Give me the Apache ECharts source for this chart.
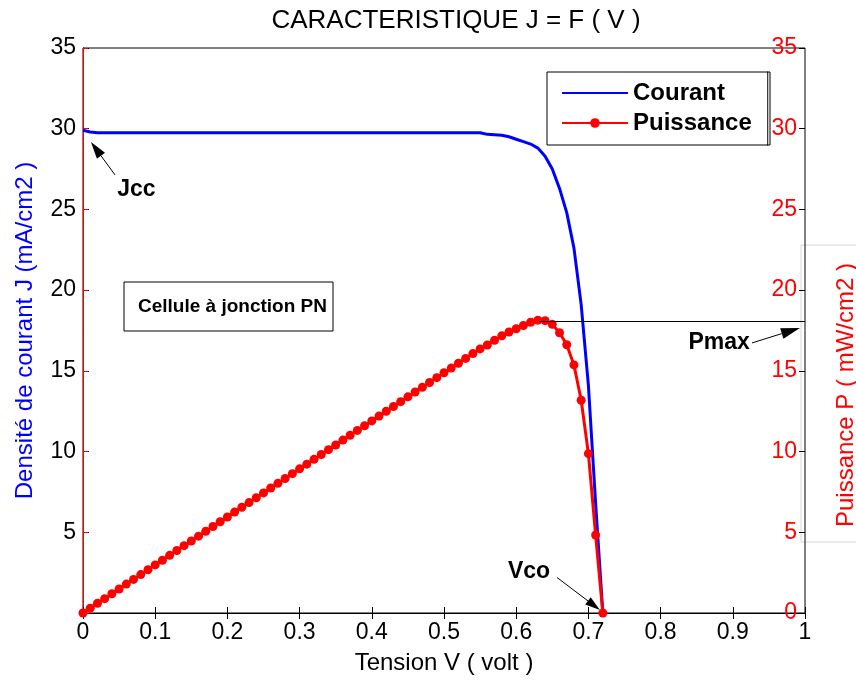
<!DOCTYPE html>
<html><head><meta charset="utf-8">
<script src="https://cdn.jsdelivr.net/npm/echarts@6/dist/echarts.min.js"></script>
<style>html,body{margin:0;padding:0;background:#fff}#c{width:856px;height:684px}</style>
</head><body><div id="c"></div>
<script>
// ---- data ----
const voltage = [0.00,0.01,0.02,0.03,0.04,0.05,0.06,0.07,0.08,0.09,
  0.10,0.11,0.12,0.13,0.14,0.15,0.16,0.17,0.18,0.19,
  0.20,0.21,0.22,0.23,0.24,0.25,0.26,0.27,0.28,0.29,
  0.30,0.31,0.32,0.33,0.34,0.35,0.36,0.37,0.38,0.39,
  0.40,0.41,0.42,0.43,0.44,0.45,0.46,0.47,0.48,0.49,
  0.50,0.51,0.52,0.53,0.54,0.55,0.56,0.57,0.58,0.59,
  0.60,0.61,0.62,0.63,0.64,0.65,0.66,0.67,0.68,0.69,
  0.70,0.71,0.72];
const courant = [29.90,29.80,29.75,29.75,29.75,29.75,29.75,29.75,29.75,29.75,
  29.75,29.75,29.75,29.75,29.75,29.75,29.75,29.75,29.75,29.75,
  29.75,29.75,29.75,29.75,29.75,29.75,29.75,29.75,29.75,29.75,
  29.75,29.75,29.75,29.75,29.75,29.75,29.75,29.75,29.75,29.75,
  29.75,29.75,29.75,29.75,29.75,29.75,29.75,29.75,29.75,29.75,
  29.75,29.75,29.75,29.75,29.75,29.75,29.65,29.63,29.60,29.50,
  29.35,29.20,29.05,28.80,28.30,27.50,26.30,24.80,22.60,19.10,
  14.10,6.80,0.00];
const puissance = [0.00,0.30,0.60,0.89,1.19,1.49,1.79,2.08,2.38,2.68,
  2.98,3.27,3.57,3.87,4.17,4.46,4.76,5.06,5.36,5.65,
  5.95,6.25,6.55,6.84,7.14,7.44,7.74,8.03,8.33,8.63,
  8.93,9.22,9.52,9.82,10.12,10.41,10.71,11.01,11.31,11.60,
  11.90,12.20,12.50,12.79,13.09,13.39,13.69,13.98,14.28,14.58,
  14.88,15.17,15.47,15.77,16.07,16.36,16.60,16.89,17.17,17.41,
  17.61,17.81,18.01,18.14,18.11,17.88,17.36,16.62,15.37,13.18,
  9.87,4.83,0.00];
const xTickLabels = ['0','0.1','0.2','0.3','0.4','0.5','0.6','0.7','0.8','0.9','1'];
const yTickLabels = ['0','5','10','15','20','25','30','35'];
const pmaxValue = 18.1;
const pmaxStartV = 0.632;

// ---- chart ----
const FONT = "'Liberation Sans', Arial, Helvetica, sans-serif";
const chart = echarts.init(document.getElementById('c'), null, {renderer: 'canvas'});

const xFmt = v => xTickLabels[Math.round(v * 10)];
const yFmt = v => yTickLabels[Math.round(v / 5)];

chart.setOption({
  animation: false,
  backgroundColor: '#fff',
  textStyle: {fontFamily: FONT},
  grid: {left: 83, right: 51, top: 48, bottom: 71, show: true, borderColor: '#000', borderWidth: 1, backgroundColor: 'transparent'},
  legend: {
    show: true, orient: 'vertical', left: 547, top: 72,
    padding: [9, 16, 10, 14], itemGap: 6, itemWidth: 66, itemHeight: 12,
    borderColor: '#000', borderWidth: 1, backgroundColor: '#fff', selectedMode: false,
    textStyle: {fontSize: 24, fontWeight: 'bold', color: '#000', fontFamily: FONT, lineHeight: 24},
    data: [{name: 'Courant', itemStyle: {opacity: 0}}, {name: 'Puissance'}]
  },
  xAxis: [
    {type: 'value', min: 0, max: 1, interval: 0.1, position: 'bottom',
     axisLine: {show: true, lineStyle: {color: '#000'}},
     axisTick: {show: true, inside: true, length: 6, lineStyle: {color: '#000'}},
     axisLabel: {color: '#000', fontSize: 23, margin: 8, fontFamily: FONT, formatter: xFmt},
     splitLine: {show: false},
     name: 'Tension V ( volt )', nameLocation: 'middle', nameGap: 38,
     nameTextStyle: {fontSize: 24, color: '#000', fontFamily: FONT}},
    {type: 'value', min: 0, max: 1, interval: 0.1, position: 'top',
     axisLine: {show: false},
     axisTick: {show: true, inside: true, length: 6, lineStyle: {color: '#000'}},
     axisLabel: {show: false}, splitLine: {show: false}}
  ],
  yAxis: [
    {type: 'value', min: 0, max: 35, interval: 5, position: 'left',
     axisLine: {show: true, lineStyle: {color: '#000'}},
     axisTick: {show: true, inside: true, length: 6, lineStyle: {color: '#000'}},
     axisLabel: {color: '#000', fontSize: 23, margin: 7, fontFamily: FONT, showMinLabel: false, formatter: yFmt},
     splitLine: {show: false},
     name: 'Densité de courant J (mA/cm2 )', nameLocation: 'middle', nameGap: 46, nameRotate: 90,
     nameTextStyle: {color: '#0000ff', fontSize: 24, fontFamily: FONT}},
    {type: 'value', min: 0, max: 35, interval: 5, position: 'right',
     axisLine: {show: true, lineStyle: {color: '#ff0000', width: 1}},
     axisTick: {show: true, inside: false, length: 5, lineStyle: {color: '#ff0000'}},
     axisLabel: {inside: true, color: '#ff0000', fontSize: 23, margin: 8, fontFamily: FONT, formatter: yFmt},
     splitLine: {show: false}},
    {type: 'value', min: 0, max: 35, interval: 5, position: 'right',
     axisLine: {show: false},
     axisTick: {show: true, inside: true, length: 6, lineStyle: {color: '#000'}},
     axisLabel: {show: false}, splitLine: {show: false}}
  ],
  series: [
    {name: 'Courant', type: 'line', xAxisIndex: 0, yAxisIndex: 0,
     data: voltage.map((v, i) => [v, courant[i]]),
     symbol: 'none', lineStyle: {color: '#0000ff', width: 3}, itemStyle: {color: '#0000ff'}, z: 2},
    {name: 'Puissance', type: 'line', xAxisIndex: 0, yAxisIndex: 1,
     data: voltage.map((v, i) => [v, puissance[i]]),
     symbol: 'circle', symbolSize: 9, showSymbol: true, showAllSymbol: true,
     lineStyle: {color: '#ff0000', width: 3}, itemStyle: {color: '#ff0000'}, z: 3,
     markLine: {silent: true, symbol: ['none', 'none'], label: {show: false},
       lineStyle: {color: '#000', width: 1, type: 'solid'},
       data: [[{coord: [pmaxStartV, pmaxValue]}, {coord: [1, pmaxValue]}]]}}
  ]
});

// ---- annotations anchored in data space ----
function px(v, y, yi) { return chart.convertToPixel({xAxisIndex: 0, yAxisIndex: yi}, [v, y]); }
function arrow(tail, tip, L, W) {
  const dx = tip[0] - tail[0], dy = tip[1] - tail[1];
  const d = Math.sqrt(dx * dx + dy * dy), ux = dx / d, uy = dy / d;
  const bx = tip[0] - ux * L, by = tip[1] - uy * L;
  const nx = -uy, ny = ux;
  return [
    {type: 'line', shape: {x1: tail[0], y1: tail[1], x2: bx, y2: by}, style: {stroke: '#000', lineWidth: 1}, z: 10},
    {type: 'polygon', shape: {points: [tip, [bx + nx * W / 2, by + ny * W / 2], [bx - nx * W / 2, by - ny * W / 2]]}, style: {fill: '#000'}, z: 10}
  ];
}
function label(text, p, size) {
  return {type: 'text', x: p[0], y: p[1], z: 10,
    style: {text: text, fill: '#000', font: 'bold ' + size + 'px ' + FONT,
      textAlign: 'center', textVerticalAlign: 'middle', align: 'center', verticalAlign: 'middle'}};
}

const els = [];
// right axis title box
els.push({type: 'rect', shape: {x: 801, y: 245, width: 62, height: 297}, style: {fill: '#fff', stroke: '#d6d6d6', lineWidth: 1}, z: -1});
els.push({type: 'text', x: 846, y: 395, rotation: Math.PI / 2, z: 10,
  style: {text: 'Puissance P ( mW/cm2 )', fill: '#ff0000', font: '24px ' + FONT,
    textAlign: 'center', textVerticalAlign: 'middle', align: 'center', verticalAlign: 'middle'}});
// title
els.push({type: 'text', x: 456, y: 21, z: 10,
  style: {text: 'CARACTERISTIQUE J = F ( V )', fill: '#000', font: '26px ' + FONT,
    textAlign: 'center', textVerticalAlign: 'middle', align: 'center', verticalAlign: 'middle'}});
// legend right-edge bracket
els.push({type: 'polyline', shape: {points: [[767, 72], [770, 72], [770, 145], [767, 145]]}, style: {stroke: '#000', lineWidth: 1, fill: null}, z: 10});
// Jcc
els.push(label('Jcc', px(0.074, 26.2, 0), 23));
els.push(...arrow(px(0.0443, 27.14, 0), px(0.011, 29.18, 0), 17, 10));
// Pmax
els.push(label('Pmax', px(0.881, 16.73, 1), 23));
els.push(...arrow(px(0.9266, 16.73, 1), px(0.993, 17.66, 1), 19, 11));
// Vco
els.push(label('Vco', px(0.6177, 2.54, 0), 23));
els.push(...arrow(px(0.6565, 2.2, 0), px(0.716, 0.19, 0), 15, 9));
// text box
els.push({type: 'rect', shape: {x: 124, y: 282, width: 209, height: 49}, style: {fill: '#fff', stroke: '#000', lineWidth: 1}, z: 5});
els.push({type: 'text', x: 138, y: 307, z: 10,
  style: {text: 'Cellule à jonction PN', fill: '#000', font: 'bold 19px ' + FONT,
    textAlign: 'left', textVerticalAlign: 'middle', align: 'left', verticalAlign: 'middle'}});

chart.setOption({graphic: {elements: els}});
</script>
</body></html>
